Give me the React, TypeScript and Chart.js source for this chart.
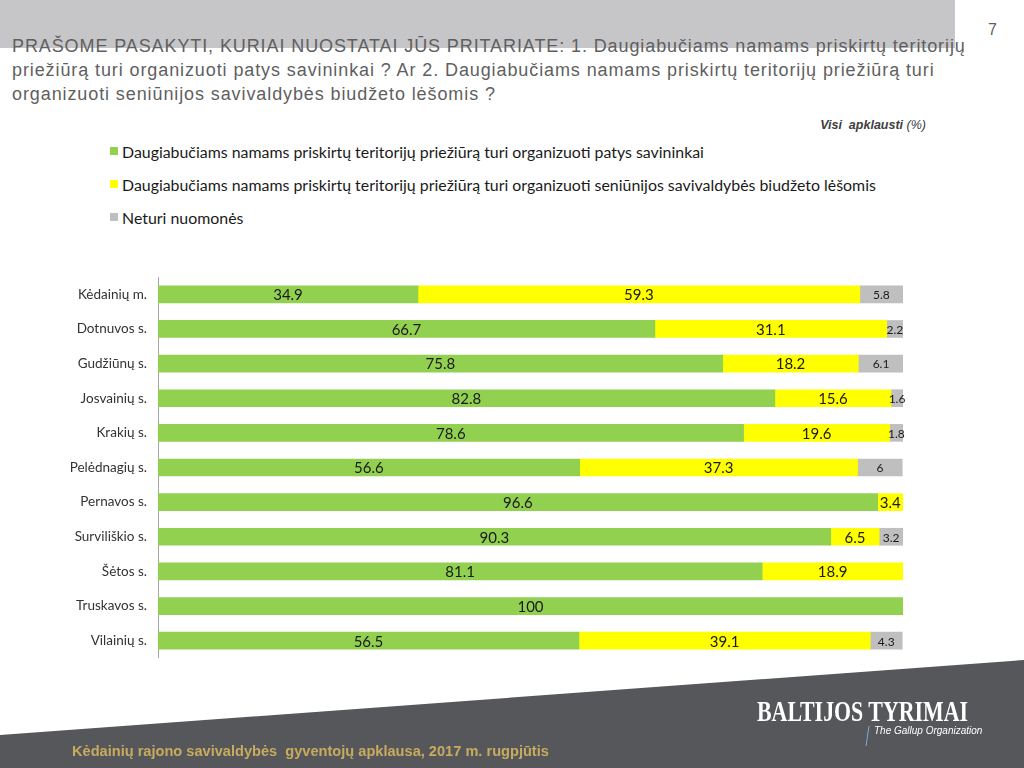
import React, { useEffect, useRef } from "react";
import { Chart, registerables } from "chart.js";

Chart.register(...registerables);

const categories = [
  "Kėdainių m.",
  "Dotnuvos s.",
  "Gudžiūnų s.",
  "Josvainių s.",
  "Krakių s.",
  "Pelėdnagių s.",
  "Pernavos s.",
  "Surviliškio s.",
  "Šėtos s.",
  "Truskavos s.",
  "Vilainių s.",
];

const ownersValues = [34.9, 66.7, 75.8, 82.8, 78.6, 56.6, 96.6, 90.3, 81.1, 100, 56.5];
const budgetValues = [59.3, 31.1, 18.2, 15.6, 19.6, 37.3, 3.4, 6.5, 18.9, null, 39.1];
const noOpinionValues = [5.8, 2.2, 6.1, 1.6, 1.8, 6, null, 3.2, null, null, 4.3];

const seriesNames = [
  "Daugiabučiams namams priskirtų teritorijų priežiūrą turi organizuoti patys savininkai",
  "Daugiabučiams namams priskirtų teritorijų priežiūrą turi organizuoti seniūnijos savivaldybės biudžeto lėšomis",
  "Neturi nuomonės",
];
const seriesColors = ["#92d050", "#ffff00", "#bfbfbf"];
const labelFontSizes = [15, 15, 12];

const FONT = "Lato, 'Open Sans', sans-serif";

const valueLabelPlugin = {
  id: "valueLabels",
  afterDatasetsDraw(chart: any) {
    const ctx = chart.ctx;
    ctx.save();
    chart.data.datasets.forEach((ds: any, di: number) => {
      const meta = chart.getDatasetMeta(di);
      meta.data.forEach((bar: any, i: number) => {
        const v = ds.data[i];
        if (v === null || v === undefined) return;
        const cx = (bar.x + bar.base) / 2;
        ctx.font = `${labelFontSizes[di]}px ${FONT}`;
        ctx.fillStyle = "#1a1a1a";
        ctx.textAlign = "center";
        ctx.textBaseline = "middle";
        ctx.fillText(String(v), cx, bar.y + 1);
      });
    });
    ctx.restore();
  },
};

export default function App() {
  const canvasRef = useRef<HTMLCanvasElement>(null);

  useEffect(() => {
    if (!canvasRef.current) return;
    const chart = new Chart(canvasRef.current, {
      type: "bar",
      data: {
        labels: categories,
        datasets: [ownersValues, budgetValues, noOpinionValues].map((d, i) => ({
          label: seriesNames[i],
          data: d,
          backgroundColor: seriesColors[i],
          borderWidth: 0,
          barThickness: 17,
        })),
      },
      options: {
        indexAxis: "y",
        responsive: false,
        animation: false,
        layout: { autoPadding: false, padding: { left: 0, right: 121, top: 0, bottom: 0 } },
        plugins: {
          legend: { display: false },
          tooltip: { enabled: false },
        },
        scales: {
          x: {
            stacked: true,
            min: 0,
            max: 100,
            display: false,
          },
          y: {
            stacked: true,
            grid: { display: false, drawTicks: false },
            border: { display: true, color: "#a6a6a6", width: 1 },
            ticks: {
              color: "#333333",
              font: { family: FONT, size: 13.5 },
              padding: 11,
            },
            afterFit: (s: any) => {
              s.width = 158;
              s.paddingTop = 0;
              s.paddingBottom = 0;
            },
          },
        },
      },
      plugins: [valueLabelPlugin],
    } as any);
    return () => chart.destroy();
  }, []);

  const titleStyle: React.CSSProperties = {
    position: "absolute",
    left: 12,
    fontFamily: "'Liberation Sans', Arial, sans-serif",
    fontSize: 18,
    letterSpacing: "0.9px",
    color: "#5f5f5f",
    whiteSpace: "nowrap",
    lineHeight: "20px",
  };

  return (
    <div
      style={{
        position: "absolute",
        left: 0,
        top: 0,
        width: 1024,
        height: 768,
        overflow: "hidden",
        background: "#ffffff",
      }}
    >
      <div style={{ position: "absolute", left: 0, top: 0, width: 955, height: 48, background: "#c6c6c8" }} />
      <div
        style={{
          position: "absolute",
          left: 988,
          top: 21,
          fontFamily: "'Liberation Sans', Arial, sans-serif",
          fontSize: 16,
          color: "#5f5f5f",
        }}
      >
        7
      </div>
      <div style={{ ...titleStyle, top: 36 }}>
        PRAŠOME PASAKYTI, KURIAI NUOSTATAI JŪS PRITARIATE: 1. Daugiabučiams namams priskirtų teritorijų
      </div>
      <div style={{ ...titleStyle, top: 60 }}>
        priežiūrą turi organizuoti patys savininkai ? Ar 2. Daugiabučiams namams priskirtų teritorijų priežiūrą turi
      </div>
      <div style={{ ...titleStyle, top: 84 }}>organizuoti seniūnijos savivaldybės biudžeto lėšomis ?</div>

      <div
        style={{
          position: "absolute",
          right: 1024 - 926,
          top: 118,
          fontFamily: "'Liberation Sans', Arial, sans-serif",
          fontSize: 12.5,
          fontStyle: "italic",
          fontWeight: "bold",
          color: "#404040",
          whiteSpace: "nowrap",
        }}
      >
        Visi&nbsp; apklausti <span style={{ fontWeight: "normal" }}>(%)</span>
      </div>

      {seriesNames.map((name, i) => (
        <div
          key={name}
          style={{
            position: "absolute",
            left: 110,
            top: 141 + i * 33,
            display: "flex",
            alignItems: "center",
            fontFamily: FONT,
            fontSize: 15.9,
            color: "#1a1a1a",
            whiteSpace: "nowrap",
            height: 20,
          }}
        >
          <span
            style={{
              display: "inline-block",
              width: 8,
              height: 8,
              background: seriesColors[i],
              marginRight: 4,
            }}
          />
          {name}
        </div>
      ))}

      <canvas
        ref={canvasRef}
        width={1024}
        height={381}
        style={{ position: "absolute", left: 0, top: 277, width: 1024, height: 381 }}
      />

      <svg
        width={1024}
        height={768}
        style={{ position: "absolute", left: 0, top: 0, pointerEvents: "none" }}
      >
        <polygon points="0,735 1024,660 1024,768 0,768" fill="#55575b" />
        <line x1={869} y1={726} x2={866} y2={746} stroke="#7fa7d6" strokeWidth={1} />
      </svg>

      <div
        style={{
          position: "absolute",
          left: 757,
          top: 695,
          fontFamily: "'Liberation Serif', 'DejaVu Serif', serif",
          fontWeight: "bold",
          fontSize: 29,
          color: "#ffffff",
          whiteSpace: "nowrap",
          transform: "scaleX(0.755)",
          transformOrigin: "left top",
        }}
      >
        BALTIJOS TYRIMAI
      </div>
      <div
        style={{
          position: "absolute",
          left: 874,
          top: 725,
          fontFamily: "'Liberation Sans Narrow', 'Liberation Sans', sans-serif",
          fontStyle: "italic",
          fontSize: 10,
          color: "#ffffff",
          whiteSpace: "nowrap",
        }}
      >
        The Gallup Organization
      </div>
      <div
        style={{
          position: "absolute",
          left: 72,
          top: 743,
          fontFamily: "'Liberation Sans Narrow', 'Liberation Sans', sans-serif",
          fontWeight: "bold",
          fontSize: 14.6,
          color: "#c8ab5e",
          whiteSpace: "pre",
        }}
      >
        Kėdainių rajono savivaldybės  gyventojų apklausa, 2017 m. rugpjūtis
      </div>
    </div>
  );
}
